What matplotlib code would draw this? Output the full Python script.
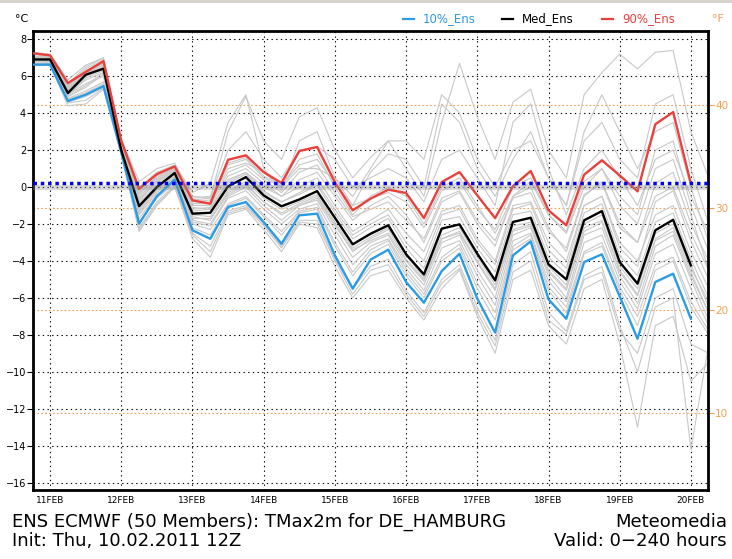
import numpy as np
import matplotlib.pyplot as plt
from matplotlib.lines import Line2D

# lead time of each 6-hourly step (hours after 10.02.2011 12Z)
lead_hours = list(range(6, 235, 6))
day_labels = ['11FEB', '12FEB', '13FEB', '14FEB', '15FEB',
              '16FEB', '17FEB', '18FEB', '19FEB', '20FEB']

# ensemble statistics (deg C), 10FEB 18Z .. 20FEB 00Z
p10 = [6.63, 6.63, 4.66, 5.0, 5.47, 1.9, -1.98, -0.5, 0.4, -2.34,
       -2.8, -1.08, -0.81, -1.89, -3.07, -1.53, -1.44, -3.7, -5.5, -3.93,
       -3.39, -5.14, -6.26, -4.55, -3.61, -6.04, -7.88, -3.7, -2.94, -6.08,
       -7.13, -4.06, -3.64, -5.92, -8.21, -5.14, -4.69, -7.13]
med = [6.91, 6.91, 5.09, 6.08, 6.41, 1.99, -1.03, 0.0, 0.76, -1.44,
       -1.39, 0.04, 0.54, -0.45, -1.04, -0.67, -0.22, -1.66, -3.1, -2.53,
       -2.07, -3.64, -4.73, -2.25, -2.02, -3.61, -5.05, -1.89, -1.66, -4.18,
       -5.0, -1.8, -1.3, -4.06, -5.23, -2.34, -1.77, -4.24]
p90 = [7.25, 7.13, 5.63, 6.23, 6.82, 2.5, -0.1, 0.7, 1.12, -0.72,
       -0.9, 1.48, 1.72, 0.81, 0.22, 1.95, 2.17, 0.27, -1.26, -0.63,
       -0.14, -0.32, -1.68, 0.27, 0.81, -0.45, -1.68, 0.04, 0.87, -1.26,
       -2.07, 0.67, 1.45, 0.63, -0.23, 3.4, 4.06, 0.18]

# a selection of the single members (deg C), 10FEB 18Z .. 20FEB 06Z
members = [
    [7.3, 7.2, 5.8, 6.6, 7.0, 2.6, 0.3, 1.0, 1.3, -0.5, -0.6, 3.0, 4.9, 2.5,
     1.5, 3.8, 4.3, 2.0, 0.5, 1.6, 2.5, 1.0, -0.5, 3.5, 6.7, 3.8, 1.5, 4.6,
     5.3, 2.0, 0.5, 5.0, 6.2, 7.2, 6.4, 7.3, 7.4, 3.0, 0.5],
    [7.2, 7.1, 5.5, 6.4, 6.9, 2.4, 0.0, 0.8, 1.2, -0.3, 0.2, 3.5, 5.0, 1.0,
     -0.2, 2.5, 3.0, 0.5, -1.0, 0.8, 1.8, 1.5, 0.0, 4.5, 3.5, 1.0, -0.5, 1.5,
     3.0, 0.5, -1.0, 2.5, 3.5, 1.5, 0.5, 4.5, 5.0, 1.0, -2.0],
    [7.1, 7.0, 5.4, 6.2, 6.7, 2.3, -0.3, 0.5, 1.0, -0.8, -0.7, 1.2, 1.5, 0.5,
     0.0, 1.5, 1.8, 0.0, -1.5, -0.5, 0.0, -0.5, -2.0, 0.0, 0.5, -1.0, -2.5, -0.5,
     0.3, -1.5, -2.5, 0.0, 1.0, -0.5, -1.5, 2.0, 2.5, -1.0, -3.5],
    [7.0, 6.95, 5.3, 6.1, 6.5, 2.1, -0.6, 0.3, 0.9, -1.0, -1.0, 0.6, 1.0, 0.2,
     -0.5, 0.0, 0.5, -1.0, -2.4, -1.8, -1.2, -2.5, -3.5, -1.3, -1.0, -2.8, -4.0, -1.0,
     -0.8, -3.0, -4.0, -1.0, -0.5, -3.0, -4.0, -1.5, -1.0, -3.5, -5.5],
    [6.9, 6.9, 5.1, 6.0, 6.4, 2.0, -1.0, 0.1, 0.7, -1.4, -1.4, 0.0, 0.5, -0.5,
     -1.0, -0.7, -0.2, -1.7, -3.1, -2.5, -2.0, -3.6, -4.7, -2.3, -2.0, -3.6, -5.0, -1.9,
     -1.7, -4.2, -5.0, -1.8, -1.3, -4.1, -5.2, -2.3, -1.8, -4.2, -6.5],
    [6.8, 6.8, 5.0, 5.6, 6.0, 1.9, -1.4, -0.2, 0.5, -1.8, -2.0, -0.5, 0.0, -1.0,
     -1.8, -1.0, -0.7, -2.3, -3.8, -3.0, -2.6, -4.2, -5.3, -3.0, -2.6, -4.5, -6.0, -2.6,
     -2.2, -4.8, -6.0, -2.6, -2.2, -4.8, -6.3, -3.2, -2.6, -5.0, -7.2],
    [6.7, 6.7, 4.8, 5.2, 5.7, 1.8, -1.9, -0.6, 0.2, -2.2, -2.6, -1.0, -0.6, -1.6,
     -2.6, -1.4, -1.2, -3.2, -4.8, -3.6, -3.1, -4.8, -6.0, -4.0, -3.3, -5.5, -7.2, -3.4,
     -2.8, -5.6, -6.8, -3.6, -3.2, -5.6, -7.5, -4.5, -4.0, -6.5, -8.0],
    [6.6, 6.6, 4.4, 4.5, 5.3, 1.7, -2.4, -1.0, 0.0, -2.8, -3.8, -1.5, -1.2, -2.3,
     -3.5, -2.0, -2.2, -4.3, -6.0, -4.8, -4.5, -6.0, -7.2, -5.5, -4.5, -7.0, -9.0, -5.0,
     -4.5, -7.5, -8.5, -5.5, -5.0, -8.5, -13.0, -7.5, -7.0, -10.5, -9.5],
    [6.6, 6.6, 4.6, 4.9, 5.4, 1.8, -2.2, -0.8, 0.1, -2.5, -3.2, -1.3, -1.0, -2.0,
     -3.2, -1.8, -1.8, -3.9, -5.5, -4.3, -3.9, -5.6, -6.8, -5.0, -4.2, -6.5, -8.3, -4.2,
     -3.5, -6.8, -7.8, -4.8, -4.3, -7.5, -10.0, -6.5, -6.0, -14.2, -8.5],
    [7.0, 7.0, 5.2, 6.2, 6.6, 2.2, -0.8, 0.4, 0.8, -1.2, -1.1, 0.3, 0.8, 0.0,
     -0.5, 0.4, 0.8, -0.5, -1.8, -1.0, -0.5, -1.5, -3.0, -0.8, -0.3, -2.0, -3.2, -0.5,
     0.0, -2.2, -3.5, -0.5, 0.3, -2.0, -3.0, -0.5, 0.0, -2.5, -4.5],
    [6.8, 6.8, 4.9, 5.5, 6.2, 2.0, -1.2, -0.1, 0.6, -1.6, -1.8, -0.3, 0.2, -0.8,
     -1.4, -0.9, -0.5, -2.0, -3.5, -2.8, -2.3, -3.9, -5.0, -2.8, -2.4, -4.0, -5.5, -2.3,
     -2.0, -4.5, -5.5, -2.2, -1.8, -4.5, -5.8, -2.8, -2.2, -4.6, -6.8],
    [7.2, 7.1, 5.6, 6.5, 7.0, 2.5, -0.2, 0.7, 1.1, -0.6, -0.5, 2.0, 3.0, 1.5,
     0.5, 2.0, 2.2, 1.5, 0.0, 0.5, 1.0, 0.5, -0.8, 1.5, 2.0, 0.5, -1.0, 3.5,
     4.5, 1.0, -1.5, 1.0, 2.0, 0.5, -1.0, 1.5, 2.0, -0.5, -2.5],
    [7.1, 7.0, 5.4, 6.3, 6.8, 2.3, -0.4, 0.6, 1.0, -0.9, -0.8, 1.0, 1.3, 0.8,
     0.0, 1.0, 1.0, 0.5, -0.5, 1.0, 2.5, 2.5, 1.5, 5.0, 4.0, 1.5, 0.0, 2.0,
     2.5, 0.5, -1.0, 3.0, 5.0, 3.0, 1.0, 3.0, 3.5, 0.0, -3.0],
    [6.9, 6.85, 5.0, 5.9, 6.3, 2.0, -1.1, 0.0, 0.7, -1.5, -1.6, -0.2, 0.3, -0.6,
     -1.2, -0.8, -0.4, -1.9, -3.3, -2.7, -2.2, -3.7, -4.9, -2.6, -2.2, -3.8, -5.3, -2.1,
     -1.9, -4.3, -5.3, -2.0, -1.5, -4.3, -5.5, -2.5, -2.0, -4.4, -6.2],
    [7.05, 7.0, 5.35, 6.15, 6.6, 2.2, -0.5, 0.4, 0.95, -0.9, -0.9, 0.8, 1.2, 0.4,
     -0.3, 0.8, 1.2, -0.3, -1.6, -1.2, -0.8, -1.8, -2.8, -0.6, -0.2, -1.8, -2.9, -0.6,
     -0.3, -2.4, -3.3, -0.4, 0.2, -2.2, -3.0, 0.2, 0.8, -2.0, -4.0],
    [6.85, 6.85, 5.0, 5.8, 6.2, 1.95, -1.3, -0.1, 0.55, -1.7, -1.7, -0.4, 0.1, -0.8,
     -1.5, -1.0, -0.6, -2.1, -3.4, -2.9, -2.5, -4.0, -5.1, -2.8, -2.5, -4.1, -5.6, -2.4,
     -2.1, -4.6, -5.6, -2.4, -1.9, -4.6, -5.9, -2.9, -2.4, -4.8, -6.8],
    [6.7, 6.7, 4.75, 5.1, 5.6, 1.85, -1.7, -0.4, 0.3, -2.0, -2.3, -0.9, -0.5, -1.5,
     -2.4, -1.3, -1.1, -3.0, -4.6, -3.4, -2.9, -4.6, -5.8, -3.8, -3.1, -5.2, -6.8, -3.2,
     -2.6, -5.4, -6.5, -3.5, -3.0, -5.4, -7.0, -4.2, -3.8, -6.2, -7.8],
    [6.95, 6.9, 5.15, 6.05, 6.45, 2.05, -0.9, 0.2, 0.8, -1.3, -1.2, 0.2, 0.7, -0.3,
     -0.8, -0.4, 0.1, -1.4, -2.8, -2.2, -1.7, -3.3, -4.4, -1.8, -1.6, -3.3, -4.6, -1.5,
     -1.3, -3.8, -4.7, -1.4, -0.9, -3.7, -4.8, -1.9, -1.4, -3.9, -6.0],
    [7.1, 7.05, 5.5, 6.3, 6.7, 2.3, -0.3, 0.5, 1.05, -0.7, -0.6, 1.3, 1.6, 0.6,
     0.1, 1.2, 1.5, 0.2, -1.0, -0.6, -0.3, -0.8, -2.2, -0.2, 0.3, -1.2, -2.3, 0.0,
     0.5, -1.5, -2.4, 0.3, 1.0, -1.0, -2.0, 1.0, 1.5, -1.5, -4.5],
    [6.8, 6.75, 4.9, 5.4, 6.1, 1.95, -1.5, -0.3, 0.45, -1.9, -2.1, -0.6, -0.2, -1.2,
     -2.0, -1.2, -0.9, -2.6, -4.2, -3.2, -2.8, -4.4, -5.6, -3.3, -2.9, -4.8, -6.4, -2.9,
     -2.5, -5.1, -6.2, -3.0, -2.6, -5.1, -6.6, -3.6, -3.1, -5.5, -7.5],
    [6.65, 6.65, 4.55, 4.7, 5.35, 1.75, -2.3, -0.9, 0.0, -2.6, -3.5, -1.4, -1.1, -2.1,
     -3.3, -1.9, -2.0, -4.0, -5.8, -4.5, -4.2, -5.8, -7.0, -5.2, -4.4, -6.8, -8.6, -4.6,
     -4.0, -7.2, -8.0, -5.0, -4.6, -7.8, -9.0, -6.0, -5.5, -8.5, -9.0],
    [7.0, 6.95, 5.25, 6.0, 6.5, 2.1, -0.7, 0.3, 0.85, -1.1, -1.2, 0.4, 0.8, -0.2,
     -0.8, -0.3, 0.2, -1.2, -2.6, -2.0, -1.5, -3.0, -4.0, -1.5, -1.2, -3.0, -4.2, -1.2,
     -0.9, -3.4, -4.4, -1.0, -0.5, -3.3, -4.3, -0.8, -0.2, -2.9, -5.0],
]

freeze_level = 0.2
fahrenheit_ticks = [10, 20, 30, 40]

BLUE = '#2b9be3'
RED = '#e8413c'
ORANGE = '#f0a050'
GRID_LS = (0, (1.2, 3.0))

x = (np.array(lead_hours) - 12) / 24.0  # days after 11FEB 00Z

fig = plt.figure(figsize=(7.32, 5.59), dpi=100)
ax = fig.add_axes([33 / 732, 1 - 490 / 559, 675 / 732, 459 / 559])
ax.set_xlim(-0.24, 9.24)
ax.set_ylim(-16.4, 8.45)

# black dotted grid
for yv in range(-16, 9, 2):
    ax.axhline(yv, color='k', lw=0.8, ls=GRID_LS, zorder=1)
for d in range(len(day_labels)):
    ax.axvline(d, color='k', lw=0.8, ls=GRID_LS, zorder=1)
# orange fahrenheit lines
for f in fahrenheit_ticks:
    ax.axhline((f - 32) / 1.8, color=ORANGE, lw=0.8, ls=(0, (1.5, 2.0)), zorder=1)

for m in members:
    ax.plot(x[:len(m)], m, color='#c8c8c8', lw=0.8, zorder=2)

n = len(med)
ax.plot(x[:n], p10, color=BLUE, lw=1.7, zorder=4)
ax.plot(x[:n], med, color='k', lw=1.7, zorder=4)
ax.plot(x[:n], p90, color=RED, lw=1.7, zorder=4)

# freezing line with its shadow
ax.axhline(freeze_level - 0.22, color='#909090', lw=3.5, alpha=0.35, zorder=5)
ax.axhline(freeze_level, color='#0000f0', lw=2.5, ls=(0, (1, 1.1)), zorder=6)

for s in ax.spines.values():
    s.set_linewidth(2)
ax.set_yticks(range(-16, 9, 2))
ax.set_yticklabels([str(v).replace('-', '\u2212') for v in range(-16, 9, 2)])
ax.tick_params(axis='y', direction='out', length=4, width=0.8, labelsize=7, pad=1)
ax.set_xticks(range(len(day_labels)))
ax.set_xticklabels(day_labels)
ax.tick_params(axis='x', length=0, labelsize=6.5, pad=4)

sec = ax.secondary_yaxis('right', functions=(lambda c: c * 1.8 + 32,
                                              lambda f: (f - 32) / 1.8))
sec.set_yticks(fahrenheit_ticks)
sec.spines['right'].set_visible(False)
sec.tick_params(direction='out', length=4, width=0.8, color=ORANGE,
                labelcolor=ORANGE, labelsize=7.5, pad=1)

# header: units and legend
fig.text(15 / 732, 1 - 19 / 559, '°C', fontsize=8, va='center')
fig.text(712 / 732, 1 - 19 / 559, '°F', fontsize=8, va='center', color=ORANGE)
legend_items = [(403, BLUE, BLUE, '10%_Ens'), (502, 'k', 'k', 'Med_Ens'),
                (602, RED, RED, '90%_Ens')]
for x0, lc, tc, label in legend_items:
    fig.add_artist(Line2D([x0 / 732, (x0 + 11) / 732], [1 - 19 / 559] * 2,
                          color=lc, lw=1.6, transform=fig.transFigure))
    fig.text((x0 + 20) / 732, 1 - 19 / 559, label, color=tc, fontsize=8.5,
             va='center')

# footer
fig.text(12 / 732, 1 - 522 / 559, 'ENS ECMWF (50 Members): TMax2m for DE_HAMBURG',
         fontsize=13, va='center')
fig.text(12 / 732, 1 - 541 / 559, 'Init: Thu, 10.02.2011 12Z', fontsize=13,
         va='center')
fig.text(727 / 732, 1 - 522 / 559, 'Meteomedia', fontsize=13, va='center',
         ha='right')
fig.text(727 / 732, 1 - 541 / 559, 'Valid: 0\u2212240 hours', fontsize=13,
         va='center', ha='right')
fig.add_artist(Line2D([0, 1], [0.998, 0.998], color='#d6d0c4', lw=2,
                      transform=fig.transFigure))

fig.savefig('out.png', dpi=100)
